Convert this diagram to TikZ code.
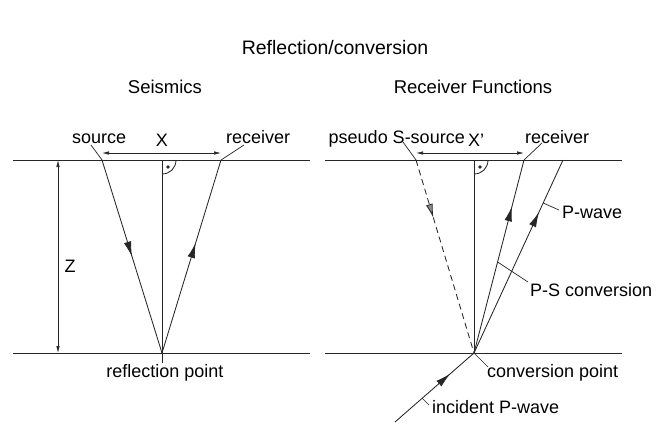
\documentclass[tikz,border=0pt]{standalone}
\usepackage{fontspec}
\setmainfont{Liberation Sans}
\usetikzlibrary{arrows.meta,decorations.markings,calc}
\begin{document}
\begin{tikzpicture}[x=1pt,y=-1pt,
  ln/.style={line width=0.85pt, draw=black!85},
  lbl/.style={font=\fontsize{18}{21}\selectfont, inner sep=0pt},
  head/.style={font=\fontsize{18.5}{22}\selectfont, inner sep=0pt},
  ttl/.style={font=\fontsize{19.5}{23}\selectfont, inner sep=0pt},
  dimline/.style={line width=0.7pt, draw=black!85, {Latex[length=7pt,width=3.5pt]}-{Latex[length=7pt,width=3.5pt]}},
  midarrow/.style={postaction={decorate}, decoration={markings, mark=at position #1 with {\arrow{Latex[length=15pt,width=7.5pt]}}}},
  grayarrow/.style={postaction={decorate}, decoration={markings, mark=at position #1 with {\arrow{Latex[length=14pt,width=7pt,fill=black!45]}}}},
  leader/.style={line width=0.7pt, draw=black!85}]
\useasboundingbox (0,0) rectangle (669,428);
% coordinates
\coordinate (LTL) at (13,160); \coordinate (LTR) at (310,160);
\coordinate (LBL) at (13,353); \coordinate (LBR) at (310,353);
\coordinate (RTL) at (325,160); \coordinate (RTR) at (622,160);
\coordinate (RBL) at (325,353); \coordinate (RBR) at (622,353);
\coordinate (src) at (102,160); \coordinate (rcv) at (221,160);
\coordinate (refl) at (162,353); \coordinate (ltop) at (162,160); \coordinate (lbot) at (162,363);
\coordinate (zt) at (58,160); \coordinate (zb) at (58,353);
\coordinate (ps) at (416,160); \coordinate (rrcv) at (524,160); \coordinate (pw) at (563,160);
\coordinate (conv) at (474,353); \coordinate (rtop) at (474,160); \coordinate (inc) at (395,422);
\coordinate (xl) at (102,153); \coordinate (xr) at (221,153);
\coordinate (xpl) at (416,153); \coordinate (xpr) at (524,153);
% layers
\draw[ln] (LTL) -- (LTR); \draw[ln] (LBL) -- (LBR);
\draw[ln] (RTL) -- (RTR); \draw[ln] (RBL) -- (RBR);
% left panel
\draw[ln] (ltop) -- (lbot);
\draw[ln, midarrow=0.5] (src) -- (refl);
\draw[ln, midarrow=0.57] (refl) -- (rcv);
\draw[dimline] (zt) -- (zb);
\draw[dimline] (xl) -- (xr);
\draw[ln] ($(ltop)+(14,0)$) .. controls ($(ltop)+(14,8)$) and ($(ltop)+(8,14)$) .. ($(ltop)+(0,14)$);
\fill[black!85] ($(ltop)+(6,7)$) circle[radius=1.8];
% right panel
\draw[ln] (rtop) -- (conv);
\draw[ln, dashed, dash pattern=on 6pt off 4pt, grayarrow=0.3] (ps) -- (conv);
\draw[ln, midarrow=0.76] (conv) -- (rrcv);
\draw[ln, midarrow=0.73] (conv) -- (pw);
\draw[ln, midarrow=0.7] (inc) -- (conv);
\draw[dimline] (xpl) -- (xpr);
\draw[ln] ($(rtop)+(14,0)$) .. controls ($(rtop)+(14,8)$) and ($(rtop)+(8,14)$) .. ($(rtop)+(0,14)$);
\fill[black!85] ($(rtop)+(6,7)$) circle[radius=1.8];
% texts
\node[ttl] (title) at (335,48) {Reflection/conversion};
\node[head] (seis) at (165,87) {Seismics};
\node[head] (rf) at (473,87) {Receiver Functions};
\node[lbl, anchor=base west] (srcl) at (72,143) {source};
\node[lbl, anchor=base west] (rcvl) at (226,143) {receiver};
\node[lbl] (xlab) at (162,140) {X};
\node[lbl] (zlab) at (70,266) {Z};
\node[lbl, anchor=north] (refll) at (165,364) {reflection point};
\node[lbl, anchor=base east] (psl) at (465,143) {pseudo S-source};
\node[lbl, anchor=base west] (rrcvl) at (525,143) {receiver};
\node[lbl] (xplab) at (476,140) {X'};
\node[lbl, anchor=west] (pwl) at (562,212) {P-wave};
\node[lbl, anchor=west] (psc) at (530,290) {P-S conversion};
\node[lbl, anchor=west] (cpl) at (487,373) {conversion point};
\node[lbl, anchor=west] (incl) at (432,407) {incident P-wave};
% leaders
\coordinate (l1) at (91,145); \draw[leader] (l1) -- (src);
\coordinate (l2) at (244,145); \draw[leader] (l2) -- (rcv);
\coordinate (l3) at (403,142); \draw[leader] (l3) -- (ps);
\coordinate (l4) at (542,143); \draw[leader] (l4) -- (rrcv);
\coordinate (l5a) at (543.2,203); \coordinate (l5b) at (559,210); \draw[leader] (l5a) -- (l5b);
\coordinate (l6a) at (497.6,262); \coordinate (l6b) at (528,282); \draw[leader] (l6a) -- (l6b);
\coordinate (l7) at (488,367); \draw[leader] (conv) -- (l7);
\coordinate (l8a) at (422,398); \coordinate (l8b) at (429,405); \draw[leader] (l8a) -- (l8b);
\end{tikzpicture}
\end{document}
